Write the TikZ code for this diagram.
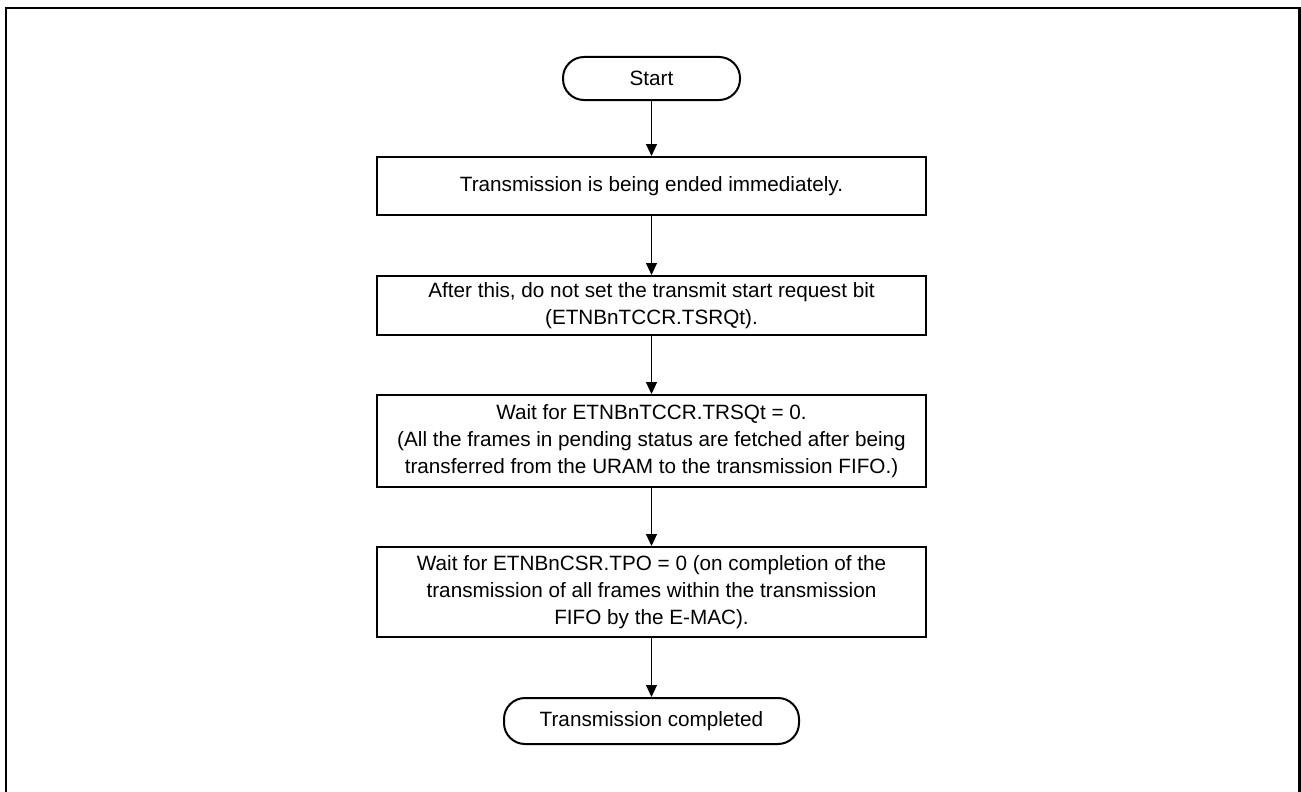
\documentclass[tikz,border=0pt]{standalone}
\usepackage{fontspec}
\setmainfont{Liberation Sans}
\usetikzlibrary{arrows.meta}
\begin{document}
\begin{tikzpicture}[x=1pt,y=-1pt,
  every node/.style={font=\fontsize{20.7}{27}\selectfont, align=center, inner sep=0pt},
  procbox/.style={draw=black, line width=2pt, minimum width=549pt},
  termbox/.style={draw=black, line width=2pt, rounded corners=21pt},
  flow/.style={line width=1pt, -{Triangle[length=12pt,width=11pt]}}
]
\clip (0,0) rectangle (1301,792);
\fill[white] (0,0) rectangle (1301,792);
\draw[line width=2.4pt] (6,800) -- (6,8) -- (1299.5,8) -- (1299.5,800);

\node[termbox, minimum width=177pt, minimum height=43pt] (start) at (651.5,78.5) {Start};
\node[procbox, minimum height=58pt] (b1) at (651.5,186) {Transmission is being ended immediately.};
\node[procbox, minimum height=59pt] (b2) at (651.5,305.5) {After this, do not set the transmit start request bit\\(ETNBnTCCR.TSRQt).};
\node[procbox, minimum height=92pt] (b3) at (651.5,441) {Wait for ETNBnTCCR.TRSQt = 0.\\(All the frames in pending status are fetched after being\\transferred from the URAM to the transmission FIFO.)};
\node[procbox, minimum height=90pt] (b4) at (651.5,592) {Wait for ETNBnCSR.TPO = 0 (on completion of the\\transmission of all frames within the transmission\\FIFO by the E-MAC).};
\node[termbox, minimum width=295pt, minimum height=46pt] (end) at (651.5,721) {Transmission completed};

\draw[flow] (start) -- (b1);
\draw[flow] (b1) -- (b2);
\draw[flow] (b2) -- (b3);
\draw[flow] (b3) -- (b4);
\draw[flow] (b4) -- (end);
\end{tikzpicture}
\end{document}
